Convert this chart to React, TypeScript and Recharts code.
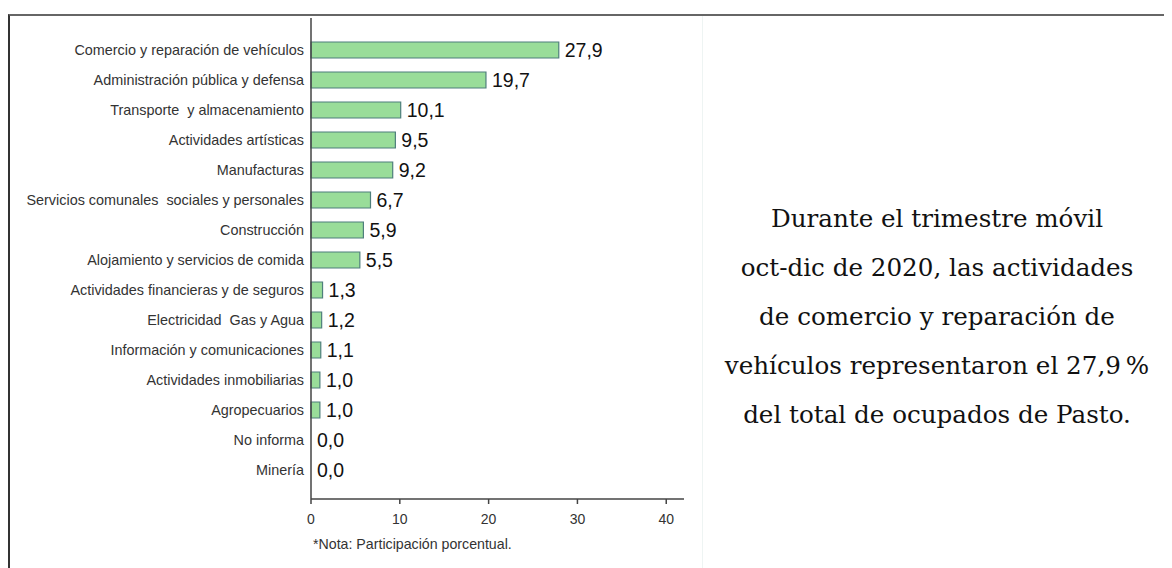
import React from "react";
import { Bar, BarChart, LabelList, Rectangle, XAxis, YAxis } from "recharts";

const sectores = [
  "Comercio y reparación de vehículos",
  "Administración pública y defensa",
  "Transporte  y almacenamiento",
  "Actividades artísticas",
  "Manufacturas",
  "Servicios comunales  sociales y personales",
  "Construcción",
  "Alojamiento y servicios de comida",
  "Actividades financieras y de seguros",
  "Electricidad  Gas y Agua",
  "Información y comunicaciones",
  "Actividades inmobiliarias",
  "Agropecuarios",
  "No informa",
  "Minería",
];

const participacion = [27.9, 19.7, 10.1, 9.5, 9.2, 6.7, 5.9, 5.5, 1.3, 1.2, 1.1, 1.0, 1.0, 0.0, 0.0];

const xTicks = [0, 10, 20, 30, 40];

const data = sectores.map((name, i) => ({ name, value: participacion[i] }));

const font = "'Liberation Sans', Arial, sans-serif";

const fmt = (v: any) => Number(v).toFixed(1).replace(".", ",");

// keeps the double spaces of the original labels
const CatTick = (props: any) => {
  const { x, y, payload } = props;
  return (
    <text
      x={x}
      y={y}
      dy="0.355em"
      textAnchor="end"
      fill="#333"
      fontSize={14.4}
      fontFamily={font}
      style={{ whiteSpace: "pre" }}
    >
      {payload.value}
    </text>
  );
};

const BarShape = (props: any) => {
  if (!props.width || props.width < 0.5) return <g />;
  return <Rectangle {...props} />;
};

export default function App() {
  return (
    <div style={{ position: "relative", width: 1164, height: 560, fontFamily: font }}>
      <div
        style={{
          position: "absolute",
          left: 0,
          top: 6,
          width: 1164,
          height: 554,
          borderTop: "2px solid #666",
          borderLeft: "2px solid #333",
          boxSizing: "border-box",
        }}
      />
      <div style={{ position: "absolute", left: 694, top: 8, width: 1, height: 552, background: "#eef4f3" }} />
      <div style={{ position: "absolute", left: 0, top: 0 }}>
        <BarChart
          width={700}
          height={560}
          data={data}
          layout="vertical"
          margin={{ top: 10, right: 24, bottom: 39, left: 0 }}
        >
          <XAxis
            type="number"
            domain={[0, 42]}
            ticks={xTicks}
            tickSize={5}
            tickMargin={10}
            stroke="#444"
            strokeWidth={1.5}
            tick={{ fill: "#333", fontSize: 14, fontFamily: font }}
            height={30}
          />
          <YAxis
            type="category"
            dataKey="name"
            width={303}
            tickLine={false}
            tickSize={5}
            tickMargin={2}
            stroke="#444"
            strokeWidth={1.5}
            interval={0}
            padding={{ top: 17, bottom: 14 }}
            tick={<CatTick />}
          />
          <Bar
            dataKey="value"
            fill="#99dd99"
            stroke="#4f7f7c"
            strokeWidth={1.2}
            barSize={16}
            minPointSize={0.01}
            shape={<BarShape />}
            isAnimationActive={false}
          >
            <LabelList
              dataKey="value"
              position="right"
              offset={6}
              formatter={fmt}
              style={{ fill: "#111", fontSize: 19.5, fontFamily: font }}
            />
          </Bar>
        </BarChart>
      </div>
      <div style={{ position: "absolute", left: 305, top: 528, fontSize: 14.2, color: "#333" }}>
        *Nota: Participación porcentual.
      </div>
      <div
        style={{
          position: "absolute",
          left: 694,
          top: 186,
          width: 470,
          textAlign: "center",
          fontFamily: "'DejaVu Serif', 'Liberation Serif', serif",
          fontSize: 24.6,
          lineHeight: "49px",
          color: "#111",
        }}
      >
        Durante el trimestre móvil
        <br />
        oct-dic de 2020, las actividades
        <br />
        de comercio y reparación de
        <br />
        vehículos representaron el 27,9{"\u2009"}%
        <br />
        del total de ocupados de Pasto.
      </div>
    </div>
  );
}
